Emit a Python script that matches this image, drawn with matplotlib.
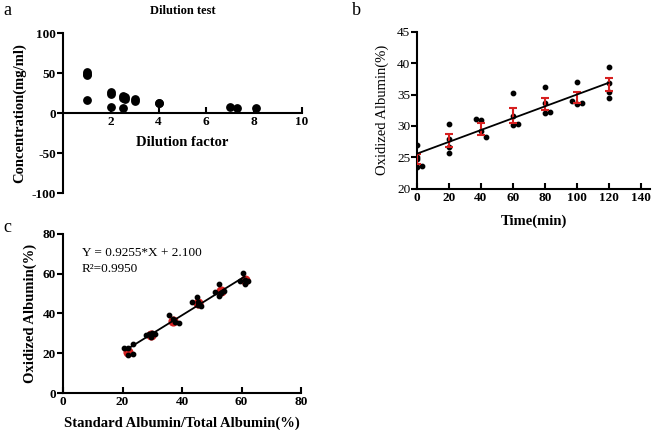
import numpy as np
import matplotlib.pyplot as plt

plt.rcParams['font.family'] = ['Liberation Serif', 'DejaVu Serif']
plt.rcParams['font.weight'] = 'bold'
plt.rcParams['axes.unicode_minus'] = False

# panel a: dilution test
dil_x = [1, 1, 1, 1, 2, 2, 2, 2.5, 2.5, 2.5, 2.6, 2.6, 3, 3, 4, 4, 7, 7.3, 8.1]
dil_y = [52, 49, 47, 16, 26, 24, 8, 21, 19, 6, 20, 18, 17, 15, 13, 12, 7, 6, 6]

# panel b: oxidation over time
time_x = [0, 0, 0, 0, 3, 20, 20, 20, 20, 37, 40, 40, 43, 60, 60, 60, 63,
          80, 80, 80, 83, 97, 100, 100, 103, 120, 120, 120, 120]
time_y = [27.0, 25.0, 24.8, 23.4, 23.6, 30.3, 27.9, 26.7, 25.7, 31.1, 30.9, 29.2, 28.3,
          35.2, 31.6, 30.1, 30.3, 36.2, 33.6, 32.0, 32.3, 34.0, 37.0, 33.5, 33.7,
          39.4, 36.8, 35.4, 34.5]
mean_t = [0, 20, 40, 60, 80, 100, 120]
mean_ox = [24.7, 27.7, 29.5, 31.6, 33.5, 34.5, 36.6]
sem_ox = [0.8, 1.1, 0.9, 1.2, 0.9, 0.9, 1.1]
fit_b = [25.6, 0.094]

# panel c: standard curve
std_x = [20.5, 22, 22, 23.5, 23.5, 28, 29, 29.5, 30, 31,
         35.5, 37, 37.5, 39, 43.5, 45, 45.5, 46.5, 45.5,
         51, 52.5, 52.5, 54, 53, 60.5, 59.5, 61, 62, 61]
std_y = [22.8, 22.5, 19.3, 19.5, 24.5, 29, 29.8, 28, 30, 29.5,
         39.3, 37, 35.5, 35.3, 45.7, 48.5, 44.5, 43.8, 46,
         51, 54.7, 49, 51.5, 50.5, 60.5, 56.5, 55, 56.3, 57]
grp_x = [21.8, 29.5, 37, 45.5, 53, 61]
grp_y = [20.8, 29.3, 36, 45.5, 51.3, 57]
slope_c, icpt_c = 0.9255, 2.100

fig = plt.figure(figsize=(6.58, 4.30), dpi=100)

def style(ax):
    ax.spines['top'].set_visible(False)
    ax.spines['right'].set_visible(False)
    for s in ['left', 'bottom']:
        ax.spines[s].set_linewidth(1.5)
    ax.tick_params(width=1.5, length=4, labelsize=9.5)
    ax.tick_params(axis='x', direction='in', pad=2)
    ax.tick_params(axis='y', direction='out', pad=1)

# a
ax1 = fig.add_axes([0.0957, 0.551, 0.363, 0.372])
ax1.scatter(dil_x, dil_y, s=28, c='k', zorder=3)
ax1.set_xlim(0, 10)
ax1.set_ylim(-100, 100)
ax1.set_xticks([2, 4, 6, 8, 10])
ax1.set_yticks([-100, -50, 0, 50, 100])
ax1.spines['bottom'].set_position(('data', 0))
style(ax1)
ax1.set_ylabel('Concentration(mg/ml)', fontsize=10.5, fontweight='bold')
ax1.text(5, -37, 'Dilution factor', ha='center', va='center', fontsize=10.5)
ax1.set_title('Dilution test', fontsize=9, pad=14, fontweight='bold')
fig.text(0.005, 0.975, 'a', fontsize=13, va='center', fontweight='normal')

# b
ax2 = fig.add_axes([0.634, 0.561, 0.354, 0.365])
ax2.scatter(time_x, time_y, s=10, c='k', zorder=3)
ax2.errorbar(mean_t, mean_ox, yerr=sem_ox, fmt='none', ecolor='#d62020',
             elinewidth=1.5, capsize=3, capthick=1.5, zorder=4)
xf = np.array([0, 120])
ax2.plot(xf, fit_b[0] + fit_b[1] * xf, color='k', lw=1.3, zorder=5)
ax2.set_xlim(0, 146)
ax2.set_ylim(20, 45)
ax2.set_xticks(range(0, 141, 20))
ax2.set_yticks(range(20, 46, 5))
style(ax2)
for lab in ax2.get_yticklabels():
    lab.set_fontweight('normal')
ax2.set_xlabel('Time(min)', fontsize=10.5, labelpad=8, fontweight='bold')
ax2.set_ylabel('Oxidized Albumin(%)', fontsize=10.5, labelpad=6)
fig.text(0.535, 0.975, 'b', fontsize=13, va='center', fontweight='normal')

# c
ax3 = fig.add_axes([0.0957, 0.086, 0.362, 0.370])
ax3.scatter(grp_x, grp_y, s=40, c='#d62020', zorder=2)
ax3.scatter(std_x, std_y, s=10, c='k', zorder=3)
xc = np.array([21, 61])
ax3.plot(xc, slope_c * xc + icpt_c, color='k', lw=1.3, zorder=4)
ax3.set_xlim(0, 80)
ax3.set_ylim(0, 80)
ax3.set_xticks(range(0, 81, 20))
ax3.set_yticks(range(0, 81, 20))
style(ax3)
ax3.set_xlabel('Standard Albumin/Total Albumin(%)', fontsize=10.5, labelpad=6,
               fontweight='bold')
ax3.set_ylabel('Oxidized Albumin(%)', fontsize=10.5, fontweight='bold')
ax3.text(0.08, 0.88, 'Y = %.4f*X + %.3f' % (slope_c, icpt_c), transform=ax3.transAxes,
         fontsize=9.5, va='center', fontweight='normal')
ax3.text(0.08, 0.78, 'R²=0.9950', transform=ax3.transAxes, fontsize=9.5, va='center',
         fontweight='normal')
fig.text(0.005, 0.47, 'c', fontsize=13, va='center', fontweight='normal')

fig.savefig('out.png', dpi=100)
